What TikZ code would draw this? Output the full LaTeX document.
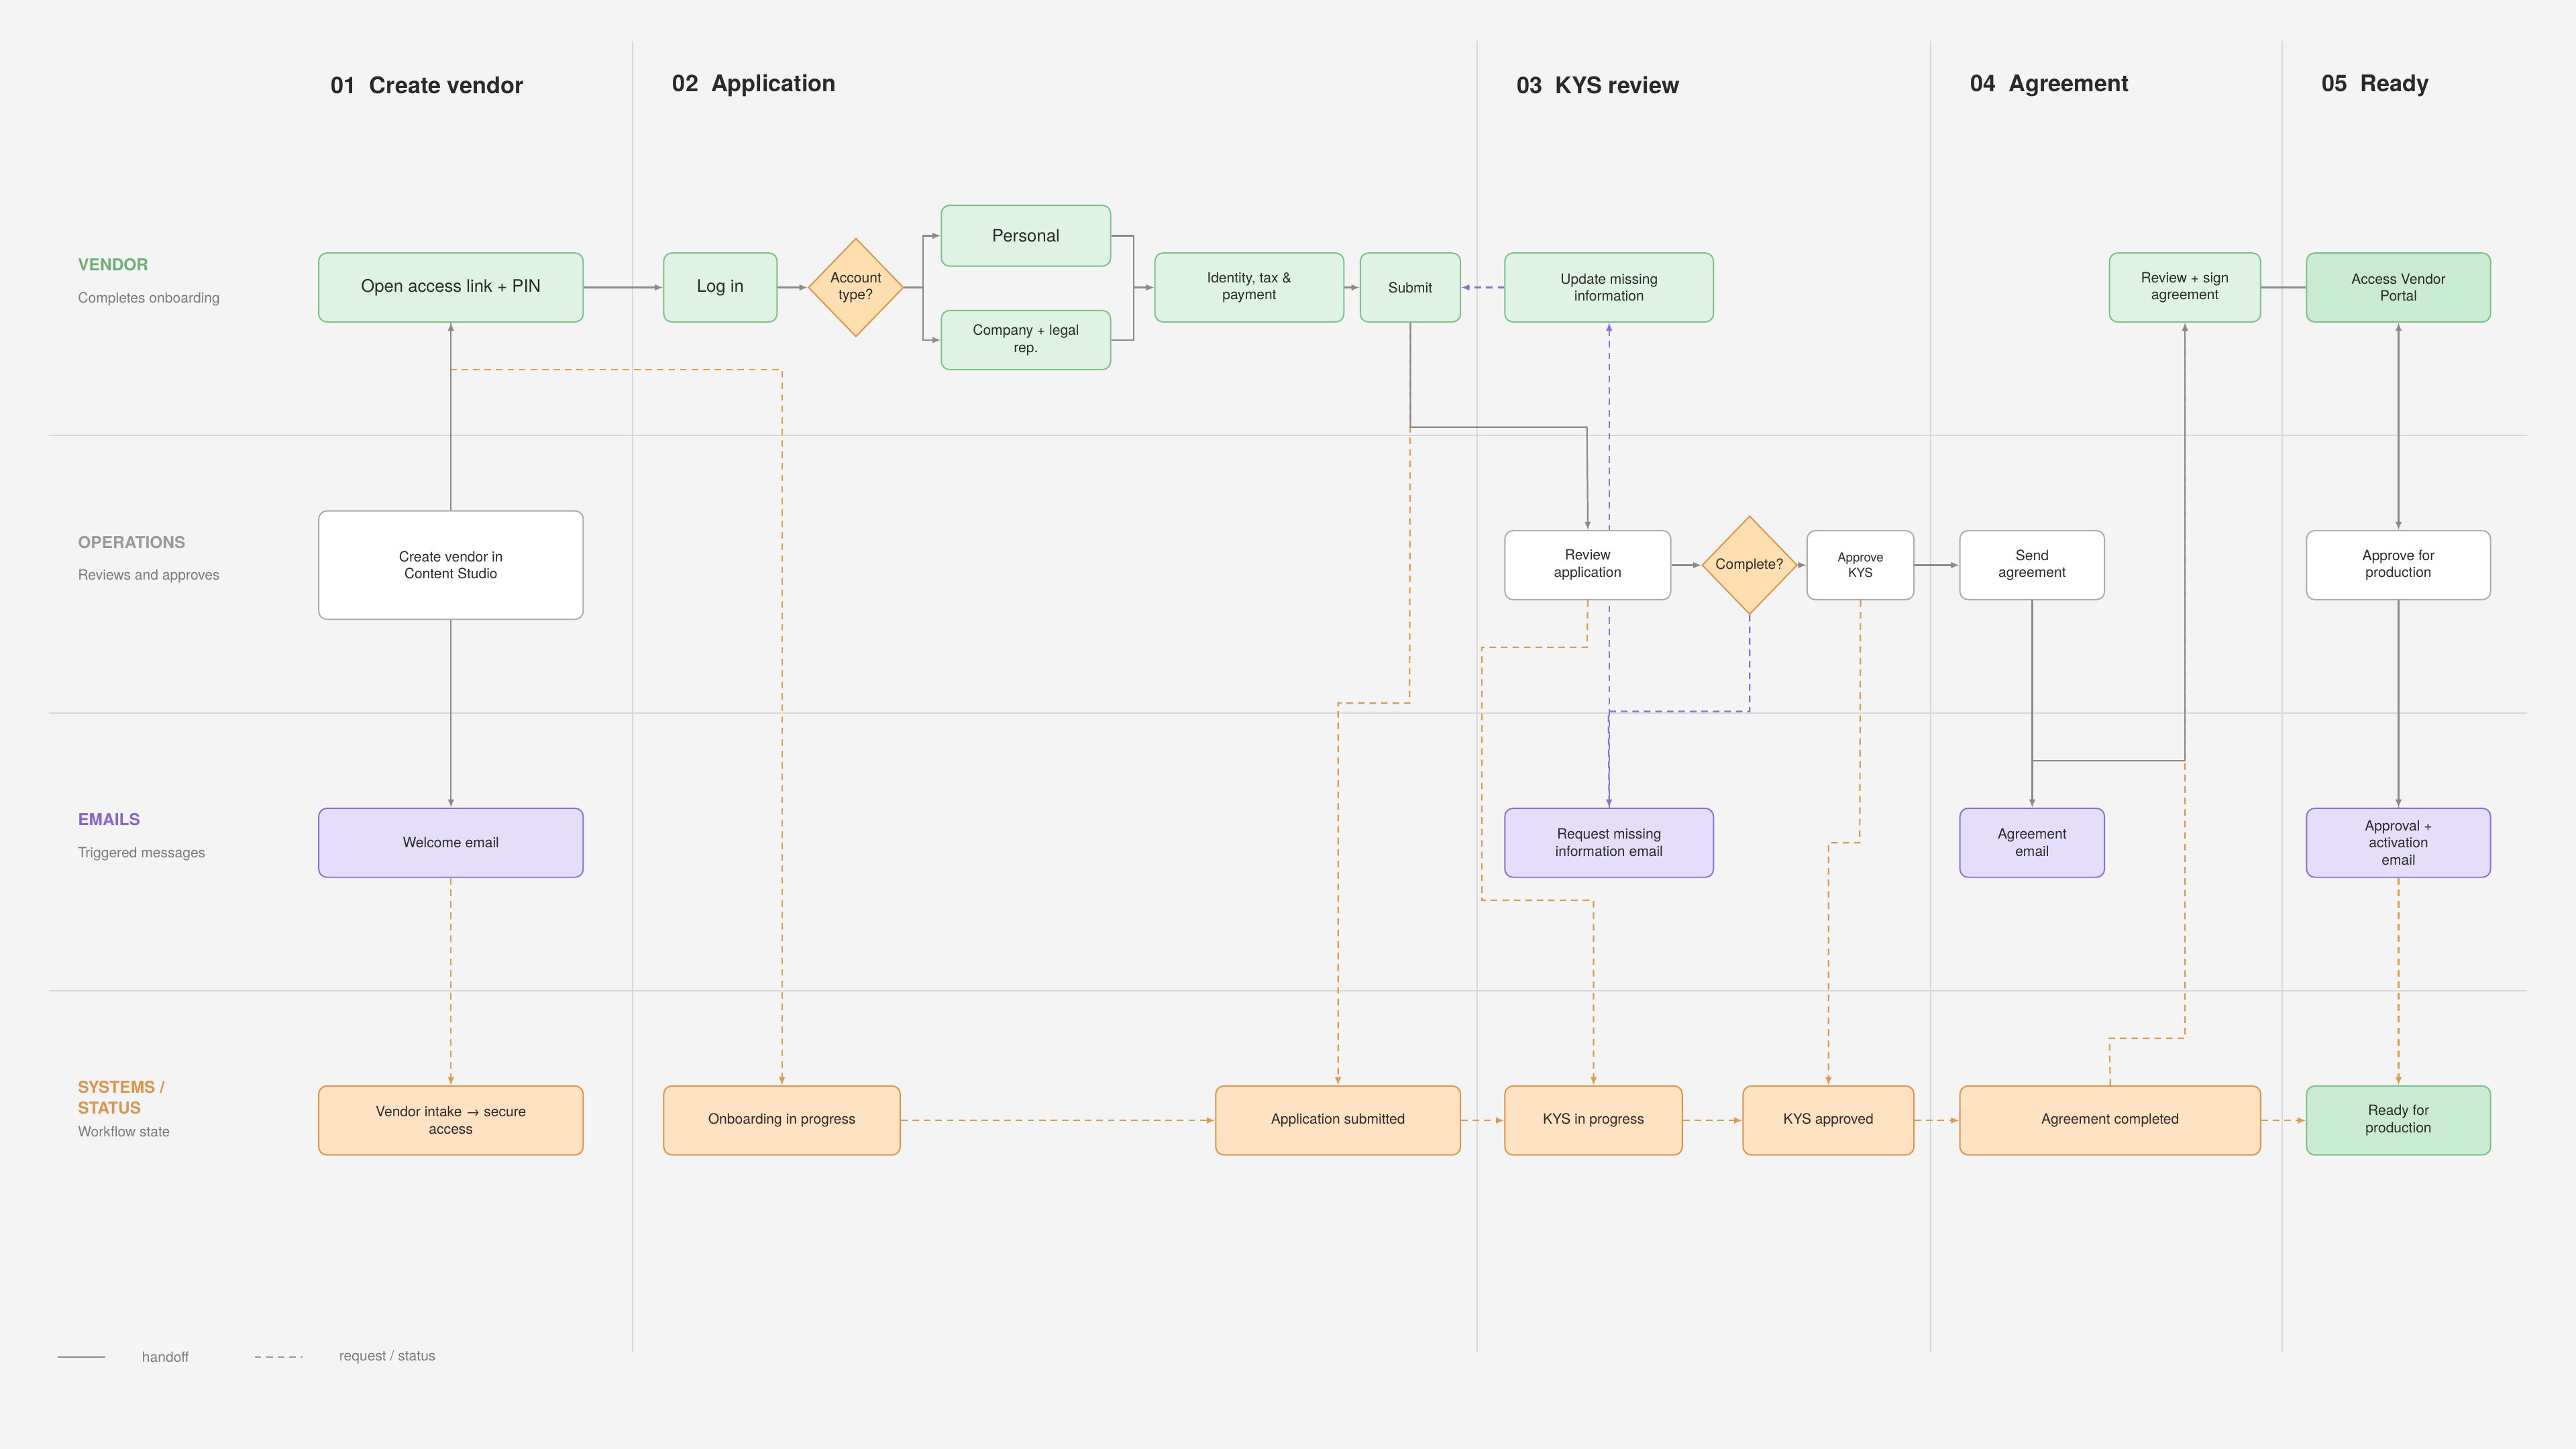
\documentclass[tikz,border=0pt]{standalone}
\usepackage{fontspec}
\setmainfont{TeX Gyre Heros}
\usetikzlibrary{shapes.geometric,arrows.meta,backgrounds}
\definecolor{bg}{HTML}{F4F4F4}
\definecolor{grid}{HTML}{D8D8D8}
\definecolor{gfill}{HTML}{DFF3E4}
\definecolor{gfill2}{HTML}{C8EBD1}
\definecolor{gline}{HTML}{7CBF88}
\definecolor{ofill}{HTML}{FFE2C2}
\definecolor{dfill}{HTML}{FFDFB0}
\definecolor{oline}{HTML}{D9954A}
\definecolor{pfill}{HTML}{E5DEFA}
\definecolor{pline}{HTML}{8A6FD6}
\definecolor{wline}{HTML}{ABABAB}
\definecolor{conn}{HTML}{8A8A8A}
\definecolor{ost}{HTML}{E09A4E}
\definecolor{lgreen}{HTML}{6BAF78}
\definecolor{lgray}{HTML}{9A9A9A}
\definecolor{lpurple}{HTML}{8A63D2}
\definecolor{txt}{HTML}{2A2A2A}
\definecolor{sub}{HTML}{7A7A7A}
\tikzset{
 box/.style={rounded corners=5pt, draw, line width=0.8pt, align=center, inner sep=2pt,
   font=\fontsize{8.6}{10.5}\selectfont, text=txt, minimum height=42pt},
 g/.style={box, fill=gfill, draw=gline},
 g2/.style={box, fill=gfill2, draw=gline},
 o/.style={box, fill=ofill, draw=oline},
 p/.style={box, fill=pfill, draw=pline},
 w/.style={box, fill=white, draw=wline},
 dia/.style={diamond, draw=oline, fill=dfill, line width=0.8pt, inner sep=0pt,
   minimum width=58pt, minimum height=60pt, text=txt, font=\fontsize{8.6}{10.5}\selectfont, align=center},
 hd/.style={anchor=west, font=\fontsize{14}{16}\selectfont\bfseries, text=txt},
 ln/.style={anchor=west, font=\fontsize{10}{12}\selectfont\bfseries},
 sb/.style={anchor=west, font=\fontsize{8.6}{10}\selectfont, text=sub},
 h/.style={draw=conn, line width=0.9pt, -{Latex[length=5pt,width=4pt]}},
 hl/.style={draw=conn, line width=0.9pt},
 st/.style={draw=ost, line width=0.9pt, dash pattern=on 4pt off 3pt, -{Latex[length=5pt,width=4pt]}},
 rq/.style={draw=pline, line width=0.9pt, dash pattern=on 4pt off 3pt, -{Latex[length=5pt,width=4pt]}},
}
\begin{document}
\begin{tikzpicture}[x=1pt,y=-1pt]
\useasboundingbox (0,0) rectangle (1568,882);
% headers
\node[hd] (h1) at (198,52) {01~~Create vendor};
\node[hd] (h2) at (406,52) {02~~Application};
\node[hd] (h3) at (920,52) {03~~KYS review};
\node[hd] (h4) at (1196,52) {04~~Agreement};
\node[hd] (h5) at (1410,52) {05~~Ready};
% lane labels
\node[ln, text=lgreen] (l1) at (44,161) {VENDOR};
\node[sb] (s1) at (44,182) {Completes onboarding};
\node[ln, text=lgray] (l2) at (44,330) {OPERATIONS};
\node[sb] (s2) at (44,351) {Reviews and approves};
\node[ln, text=lpurple] (l3) at (44,499) {EMAILS};
\node[sb] (s3) at (44,520) {Triggered messages};
\node[ln, text=oline, align=left, font=\fontsize{10}{12.5}\selectfont\bfseries] (l4) at (44,668) {SYSTEMS /\\STATUS};
\node[sb] (s4) at (44,689) {Workflow state};
% vendor row
\node[g, minimum width=161pt, font=\fontsize{10.5}{12}\selectfont] (open) at (274.5,175) {Open access link + PIN};
\node[g, minimum width=69pt, font=\fontsize{10.5}{12}\selectfont] (login) at (438.5,175) {Log in};
\node[dia] (acct) at (521,175) {Account\\type?};
\node[g, minimum width=103pt, minimum height=37pt, font=\fontsize{10.5}{12}\selectfont] (personal) at (624.5,143.5) {Personal};
\node[g, minimum width=103pt, minimum height=36pt] (company) at (624.5,207) {Company + legal\\rep.};
\node[g, minimum width=115pt] (identity) at (760.5,175) {Identity, tax \&\\payment};
\node[g, minimum width=61pt] (submit) at (858.5,175) {Submit};
\node[g, minimum width=127pt] (update) at (979.5,175) {Update missing\\information};
\node[g, minimum width=92pt] (rsign) at (1330,175) {Review + sign\\agreement};
\node[g2, minimum width=112pt] (portal) at (1460,175) {Access Vendor\\Portal};
% operations row
\node[w, minimum width=161pt, minimum height=66pt] (create) at (274.5,344) {Create vendor in\\Content Studio};
\node[w, minimum width=101pt] (review) at (966.5,344) {Review\\application};
\node[dia] (complete) at (1065,344) {};
\node[anchor=center, inner sep=0pt, font=\fontsize{8.6}{10.5}\selectfont, text=txt] (completet) at (1065,344) {Complete?};
\node[w, minimum width=65pt, font=\fontsize{7.6}{9.5}\selectfont] (apkys) at (1132.5,344) {Approve\\KYS};
\node[w, minimum width=88pt] (send) at (1237,344) {Send\\agreement};
\node[w, minimum width=112pt] (approve) at (1460,344) {Approve for\\production};
% emails row
\node[p, minimum width=161pt] (welcome) at (274.5,513) {Welcome email};
\node[p, minimum width=127pt] (request) at (979.5,513) {Request missing\\information email};
\node[p, minimum width=88pt] (agremail) at (1237,513) {Agreement\\email};
\node[p, minimum width=112pt] (apemail) at (1460,513) {Approval +\\activation\\email};
% systems row
\node[o, minimum width=161pt] (intake) at (274.5,682) {Vendor intake → secure\\access};
\node[o, minimum width=144pt] (onboard) at (476,682) {Onboarding in progress};
\node[o, minimum width=149pt] (appsub) at (814.5,682) {Application submitted};
\node[o, minimum width=108pt] (kysprog) at (970,682) {KYS in progress};
\node[o, minimum width=104pt] (kysapp) at (1113,682) {KYS approved};
\node[o, minimum width=183pt] (agrcomp) at (1284.5,682) {Agreement completed};
\node[g2, minimum width=112pt] (ready) at (1460,682) {Ready for\\production};
% legend
\coordinate (la) at (35,826); \coordinate (lb) at (64,826);
\coordinate (lc) at (155,826); \coordinate (ld) at (184,826);
\node[sb] (lt1) at (83,826) {handoff};
\node[sb] (lt2) at (203,826) {request / status};
% junction coordinates
\coordinate (aj) at (562,175);
\coordinate (pj) at (690,175);
\coordinate (sj) at (966,260);
\coordinate (aj2) at (1330,463);
\coordinate (oj) at (476,225);
\coordinate (sj2) at (858,428);
\coordinate (r1) at (966,394);
\coordinate (r2) at (902,394);
\coordinate (r3) at (902,548);
\coordinate (k1) at (1132,513);
\coordinate (g1) at (1284,632);
\coordinate (cj) at (979,433);
\begin{scope}[on background layer]
\fill[bg] (0,0) rectangle (1568,882);
\foreach \yy in {265,434,603} \draw[grid, line width=0.8pt] (30,\yy) -- (1538,\yy);
\foreach \xx in {385,899,1175,1389} \draw[grid, line width=0.8pt] (\xx,25) -- (\xx,823);
% legend lines
\draw[hl] (la) -- (lb);
\draw[draw=lgray, line width=0.9pt, dash pattern=on 4pt off 3pt] (lc) -- (ld);
% orange status
\draw[st] (welcome) -- (intake);
\draw[st] (open.south) |- (oj) -- (onboard.north);
\draw[st] (onboard) -- (appsub);
\draw[st] (appsub) -- (kysprog);
\draw[st] (kysprog) -- (kysapp);
\draw[st] (kysapp) -- (agrcomp);
\draw[st] (agrcomp) -- (ready);
\draw[st] (submit.south) -- (sj2) -| (appsub.north);
\draw[st] (review.south) -- (r1) -- (r2) -- (r3) -| (kysprog.north);
\draw[st] (apkys.south) -- (k1) -| (kysapp.north);
\draw[st] (agrcomp.north) -- (g1) -| (rsign.south);
\draw[st] (apemail) -- (ready);
\draw[draw=ost, line width=0.9pt, dash pattern=on 4pt off 3pt] (approve.south) -- (apemail.north);
% handoffs
\draw[h] (open) -- (login);
\draw[h] (login) -- (acct);
\draw[h] (acct.east) -- (aj) |- (personal.west);
\draw[h] (aj) |- (company.west);
\draw[hl] (personal.east) -| (pj);
\draw[hl] (company.east) -| (pj);
\draw[h] (pj) -- (identity.west);
\draw[h] (identity) -- (submit);
\draw[h] (submit.south) |- (sj) -- (review.north);
\draw[h] (create) -- (open);
\draw[h] (create) -- (welcome);
\draw[h] (review) -- (complete);
\draw[h] (complete) -- (apkys);
\draw[h] (apkys) -- (send);
\draw[h] (send) -- (agremail);
\draw[h] (send.south |- aj2) -- (aj2) -- (rsign.south);
\draw[hl] (rsign) -- (portal);
\draw[h, {Latex[length=5pt,width=4pt]}-{Latex[length=5pt,width=4pt]}] (portal) -- (approve);
\draw[h] (approve) -- (apemail);
% purple requests
\draw[rq] (update) -- (submit);
\draw[rq] (request.north) -- (update.south);
\draw[rq] (complete.south) |- (cj) -- (request.north);
\end{scope}
\end{tikzpicture}
\end{document}
